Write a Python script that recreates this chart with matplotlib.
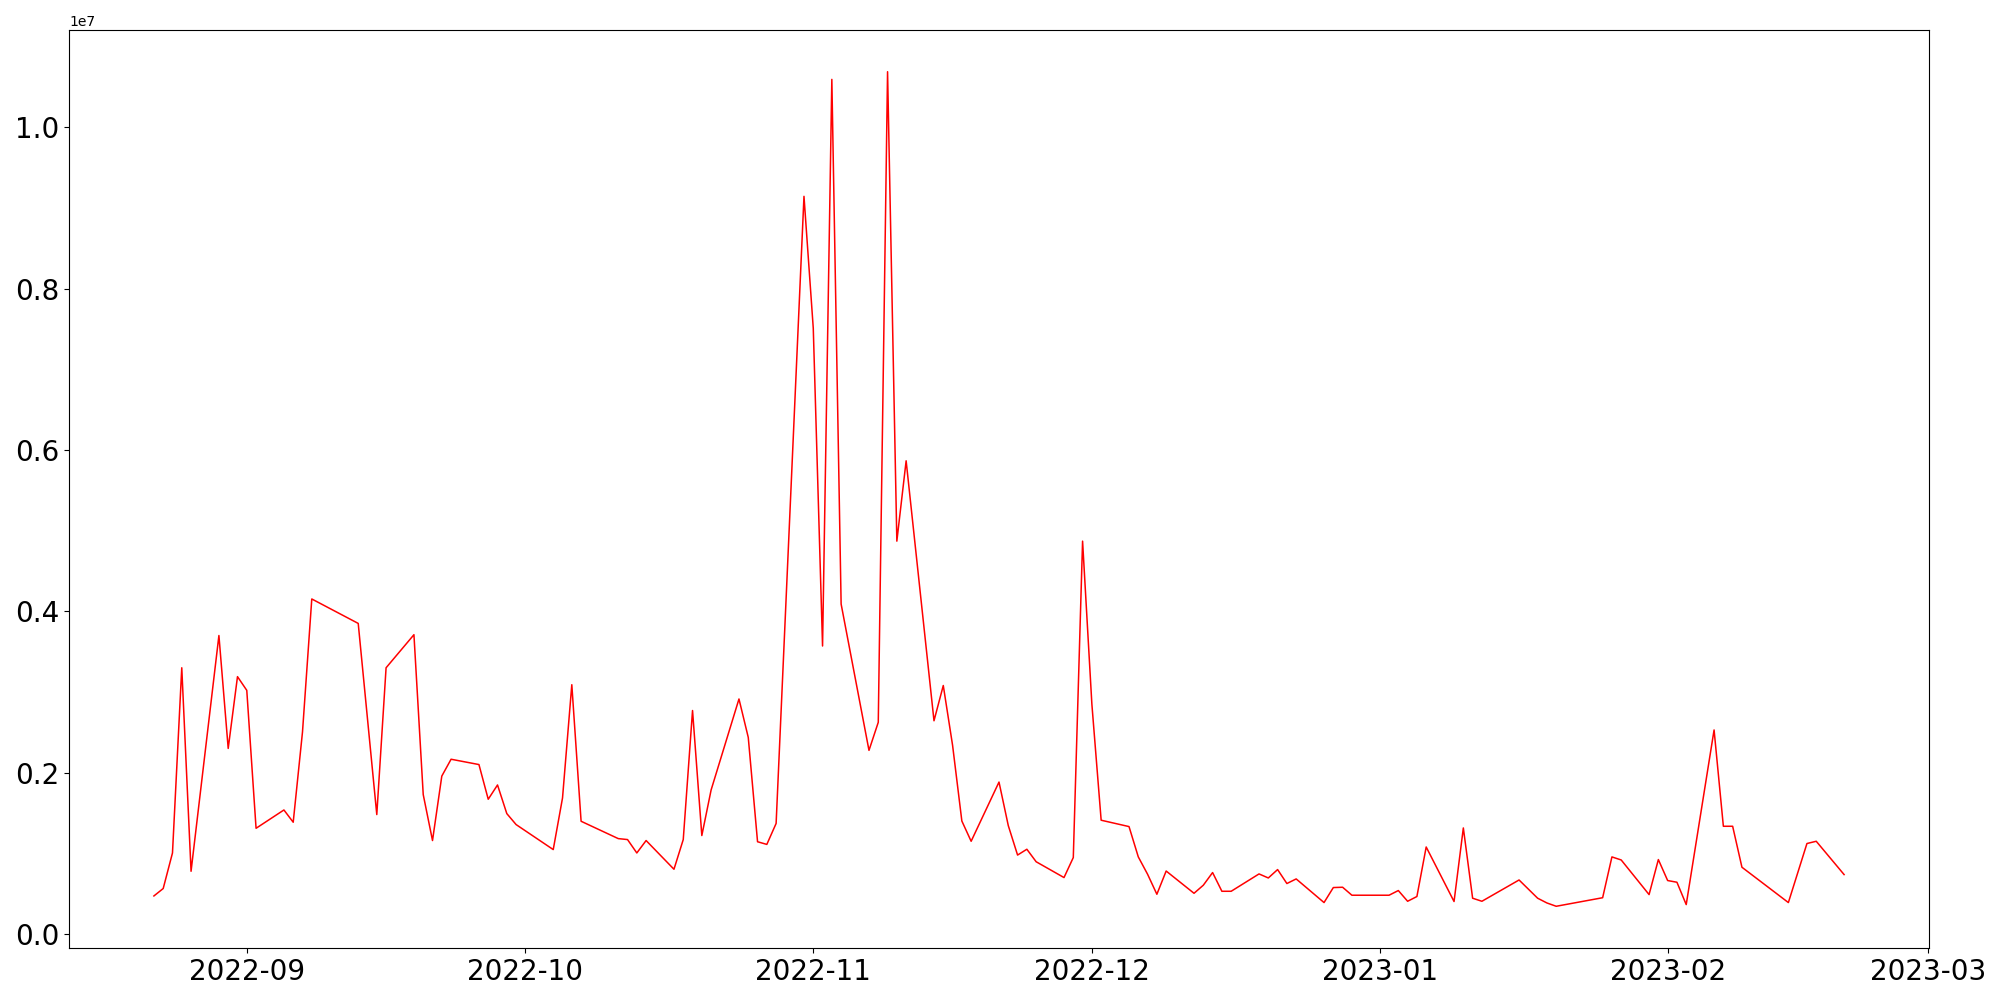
import numpy as np
import matplotlib
matplotlib.use('Agg')
import matplotlib.pyplot as plt

# daily values (weekdays only, some gaps)
dates = ['2022-08-22', '2022-08-23', '2022-08-24', '2022-08-25', '2022-08-26',
         '2022-08-29', '2022-08-30', '2022-08-31', '2022-09-01', '2022-09-02',
         '2022-09-05', '2022-09-06', '2022-09-07', '2022-09-08', '2022-09-13',
         '2022-09-15', '2022-09-16', '2022-09-19', '2022-09-20', '2022-09-21',
         '2022-09-22', '2022-09-23', '2022-09-26', '2022-09-27', '2022-09-28',
         '2022-09-29', '2022-09-30', '2022-10-04', '2022-10-05', '2022-10-06',
         '2022-10-07', '2022-10-11', '2022-10-12', '2022-10-13', '2022-10-14',
         '2022-10-17', '2022-10-18', '2022-10-19', '2022-10-20', '2022-10-21',
         '2022-10-24', '2022-10-25', '2022-10-26', '2022-10-27', '2022-10-28',
         '2022-10-31', '2022-11-01', '2022-11-02', '2022-11-03', '2022-11-04',
         '2022-11-07', '2022-11-08', '2022-11-09', '2022-11-10', '2022-11-11',
         '2022-11-14', '2022-11-15', '2022-11-16', '2022-11-17', '2022-11-18',
         '2022-11-21', '2022-11-22', '2022-11-23', '2022-11-24', '2022-11-25',
         '2022-11-28', '2022-11-29', '2022-11-30', '2022-12-01', '2022-12-02',
         '2022-12-05', '2022-12-06', '2022-12-07', '2022-12-08', '2022-12-09',
         '2022-12-12', '2022-12-13', '2022-12-14', '2022-12-15', '2022-12-16',
         '2022-12-19', '2022-12-20', '2022-12-21', '2022-12-22', '2022-12-23',
         '2022-12-26', '2022-12-27', '2022-12-28', '2022-12-29', '2023-01-02',
         '2023-01-03', '2023-01-04', '2023-01-05', '2023-01-06', '2023-01-09',
         '2023-01-10', '2023-01-11', '2023-01-12', '2023-01-16', '2023-01-17',
         '2023-01-18', '2023-01-19', '2023-01-20', '2023-01-25', '2023-01-26',
         '2023-01-27', '2023-01-30', '2023-01-31', '2023-02-01', '2023-02-02',
         '2023-02-03', '2023-02-06', '2023-02-07', '2023-02-08', '2023-02-09',
         '2023-02-14', '2023-02-16', '2023-02-17', '2023-02-20']

volume = [471000, 563000, 1004000, 3300000, 777000,
          3700000, 2300000, 3190000, 3020000, 1310000,
          1537000, 1385000, 2504000, 4153000, 3850000,
          1480000, 3300000, 3710000, 1728000, 1158000,
          1957000, 2166000, 2100000, 1670000, 1847000,
          1492000, 1356000, 1046000, 1686000, 3090000,
          1397000, 1182000, 1170000, 1004000, 1158000,
          802000, 1170000, 2770000, 1220000, 1785000,
          2913000, 2437000, 1143000, 1110000, 1370000,
          9145000, 7510000, 3570000, 10595000, 4090000,
          2276000, 2624000, 10690000, 4870000, 5866000,
          2643000, 3080000, 2340000, 1400000, 1149000,
          1883000, 1343000, 978000, 1050000, 895000,
          699000, 947000, 4870000, 2850000, 1410000,
          1331000, 955000, 740000, 492000, 780000,
          504000, 604000, 761000, 529000, 529000,
          744000, 694000, 798000, 625000, 682000,
          389000, 575000, 579000, 480000, 480000,
          538000, 405000, 464000, 1078000, 402000,
          1314000, 443000, 405000, 669000, 556000,
          443000, 384000, 343000, 449000, 955000,
          917000, 488000, 922000, 662000, 641000,
          364000, 2529000, 1335000, 1335000, 827000,
          389000, 1121000, 1149000, 736000]

x = np.array(dates, dtype='datetime64[D]')

fig, ax = plt.subplots(figsize=(20, 10), dpi=100)
fig.subplots_adjust(left=0.0347, right=0.9643, bottom=0.052, top=0.97)

ax.plot(x, volume, color='red', linewidth=1.1)

ax.tick_params(axis='both', labelsize=20)

fig.savefig('out.png', dpi=100)
